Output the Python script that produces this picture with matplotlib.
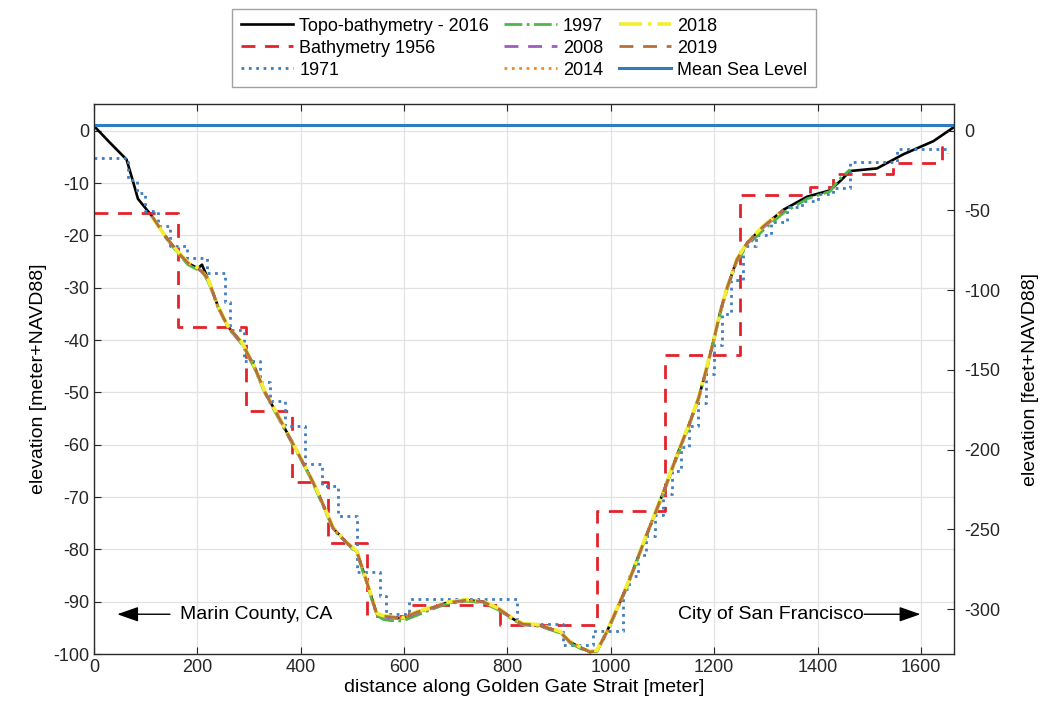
import numpy as np
import matplotlib
matplotlib.use("Agg")
import matplotlib.pyplot as plt

plt.rcParams["font.family"] = ["Liberation Sans", "DejaVu Sans"]
plt.rcParams["font.size"] = 13
plt.rcParams["axes.unicode_minus"] = False

nan = np.nan
M2FT = 3.28084

# topo-bathymetry 2016 profile
dist_2016 = [0, 30, 63, 75, 85, 112, 137, 163, 182, 201,
             209, 221, 240, 259, 286, 310, 331, 360, 386, 410,
             424, 437, 463, 489, 509, 528, 547, 560, 573, 597,
             625, 650, 683, 721, 753, 785, 811, 830, 863, 902,
             921, 940, 960, 973, 992, 1018, 1034, 1043, 1070, 1100,
             1130, 1150, 1170, 1185, 1199, 1212, 1225, 1244, 1264, 1295,
             1334, 1380, 1424, 1445, 1463, 1515, 1566, 1624, 1664]
elev_2016 = [0.9, -2.2, -5.5, -9.5, -13.0, -16.3, -20.0, -23.3, -25.3, -26.3,
             -25.6, -28.4, -33.6, -37.4, -40.5, -45.0, -50.0, -55.2, -60.0, -64.5,
             -67.2, -70.0, -76.0, -78.7, -80.5, -86.3, -92.3, -92.8, -92.9, -93.2,
             -92.0, -91.3, -90.2, -89.7, -90.0, -91.5, -93.3, -94.3, -94.5, -95.8,
             -97.7, -98.7, -99.6, -99.4, -95.8, -90.0, -86.3, -84.0, -77.0, -69.5,
             -61.5, -56.5, -51.0, -45.5, -40.0, -34.5, -30.0, -24.6, -21.4, -18.3,
             -15.1, -12.6, -11.4, -9.5, -7.7, -7.2, -4.5, -2.0, 0.7]

# 1956 bathymetry (stepped, value holds until next distance)
dist_1956 = [0, 163, 294, 383, 453, 528, 610, 786, 973, 1105, 1250, 1386, 1430, 1545, 1641, 1650]
elev_1956 = [-15.8, -37.6, -53.6, -67.1, -78.8, -92.7, -90.7, -94.4, -72.7, -42.8,
             -12.3, -10.8, -8.2, -6.1, -3.2, -3.2]

# 1971 survey (stepped)
dist_1971 = [0, 66, 83, 99, 124, 147, 180, 219, 253, 263,
             290, 321, 341, 370, 408, 441, 472, 509, 553, 565,
             610, 818, 908, 966, 1024, 1036, 1052, 1068, 1085, 1100,
             1118, 1135, 1152, 1168, 1185, 1200, 1215, 1232, 1255, 1280,
             1310, 1340, 1370, 1400, 1430, 1463, 1554, 1650]
elev_1971 = [-5.2, -9.4, -11.9, -15.4, -18.3, -22.0, -24.3, -27.1, -32.8, -38.0,
             -44.0, -48.0, -51.7, -56.5, -63.7, -67.9, -73.7, -84.4, -88.9, -92.3,
             -89.5, -94.3, -98.2, -95.6, -87.6, -85.0, -81.0, -77.5, -73.5, -69.5,
             -65.0, -60.5, -56.5, -52.0, -46.5, -41.0, -35.0, -28.5, -22.0, -20.0,
             -17.5, -14.5, -13.5, -12.0, -11.0, -5.9, -3.4, -4.2]

# later multibeam surveys on a shared distance grid
survey_dist = [112, 137, 163, 182, 201, 209, 221, 240, 259, 286,
               310, 331, 360, 386, 410, 424, 437, 463, 489, 509,
               528, 547, 560, 573, 597, 625, 650, 683, 721, 753,
               785, 811, 830, 863, 902, 921, 940, 960, 973, 992,
               1018, 1034, 1043, 1070, 1100, 1130, 1150, 1170, 1185, 1199,
               1212, 1225, 1244, 1264, 1295, 1334, 1380, 1424, 1445, 1463]
elev_1997 = [nan, -20.2, -23.5, -25.6, -26.6, -27.0, -28.8, -33.8, -37.6, -40.8,
             -45.3, -50.2, -55.5, -60.3, -64.6, -67.5, -70.3, -76.2, -78.8, -80.8,
             -86.6, -92.6, -93.4, -93.6, -93.7, -92.6, -91.6, -90.4, -89.9, -90.2,
             -91.7, -93.5, -94.4, -94.7, -96.0, -97.9, -98.9, -99.7, -99.5, -96.0,
             -90.3, -86.6, -84.2, -77.2, -69.8, -61.8, -56.8, -51.3, -45.8, -40.3,
             -34.8, -30.3, -25.0, -21.9, -19.0, -15.7, -13.0, -11.6, -9.0, -7.4]
elev_2008 = [nan, -20.1, -23.4, -25.4, -26.4, -27.0, -28.6, -33.7, -37.5, -40.6,
             -45.1, -50.1, -55.3, -60.1, -64.6, -67.3, -70.1, -76.1, -78.8, -80.6,
             -86.4, -92.4, -92.9, -93.1, -93.3, -92.2, -91.4, -90.3, -89.8, -90.1,
             -91.6, -93.4, -94.4, -94.6, -95.9, -97.8, -98.8, -99.6, -99.4, -95.9,
             -90.1, -86.4, -84.1, -77.1, -69.6, -61.6, -56.6, -51.1, -45.6, -40.1,
             -34.6, -30.1, -24.8, -21.6, -18.5, -15.3, nan, nan, nan, nan]
elev_2014 = [nan, -20.0, -23.3, -25.3, -26.3, -26.9, -28.5, -33.6, -37.4, -40.5,
             -45.0, -50.0, -55.2, -60.0, -64.5, -67.2, -70.0, -76.0, -78.7, -80.5,
             -86.3, -92.3, -92.8, -92.9, -93.2, -92.0, -91.3, -90.2, -89.7, -90.0,
             -91.5, -93.3, -94.3, -94.5, -95.8, -97.7, -98.7, -99.6, -99.4, -95.8,
             -90.0, -86.3, -84.0, -77.0, -69.5, -61.5, -56.5, -51.0, -45.5, -40.0,
             -34.5, -30.0, -24.6, -21.5, -18.4, -15.2, nan, nan, nan, nan]
elev_2018 = [-16.4, -20.0, -23.2, -25.2, -26.2, -26.8, -28.4, -33.5, -37.3, -40.4,
             -44.9, -49.9, -55.1, -59.9, -64.4, -67.1, -69.9, -75.9, -78.6, -80.4,
             -86.2, -92.2, -92.7, -92.8, -93.1, -91.9, -91.2, -90.1, -89.6, -89.9,
             -91.4, -93.2, -94.2, -94.4, -95.7, -97.6, -98.6, -99.5, -99.3, -95.7,
             -89.9, -86.2, -83.9, -76.9, -69.4, -61.4, -56.4, -50.9, -45.4, -39.9,
             -34.4, -29.9, -24.5, -21.3, -18.2, -15.0, nan, nan, nan, nan]
elev_2019 = [-16.3, -20.0, -23.3, -25.3, -26.3, -26.9, -28.4, -33.6, -37.4, -40.5,
             -45.0, -50.0, -55.2, -60.0, -64.5, -67.2, -70.0, -76.0, -78.7, -80.5,
             -86.3, -92.3, -92.8, -92.9, -93.2, -92.0, -91.3, -90.2, -89.7, -90.0,
             -91.5, -93.3, -94.3, -94.5, -95.8, -97.7, -98.7, -99.6, -99.4, -95.8,
             -90.0, -86.3, -84.0, -77.0, -69.5, -61.5, -56.5, -51.0, -45.5, -40.0,
             -34.5, -30.0, -24.6, -21.4, -18.3, -15.1, nan, nan, nan, nan]

msl = 1.1
xmax = 1664
ylim_m = (-100, 5.1)

fig = plt.figure(figsize=(10.43, 7.15), dpi=100)
ax = fig.add_axes([0.0901, 0.0853, 0.8246, 0.7692])

ax.plot(dist_2016, elev_2016, color="black", lw=1.9, label="Topo-bathymetry - 2016")
ax.plot(dist_1956, elev_1956, color="#e3222b", lw=2.0, dashes=(5, 3.5),
        drawstyle="steps-post", label="Bathymetry 1956")
ax.plot(dist_1971, elev_1971, color="#3f7fbf", lw=2.0, ls=":",
        drawstyle="steps-post", label="1971")
ax.plot(survey_dist, elev_1997, color="#4db848", lw=2.0, ls="-.", label="1997")
ax.plot(survey_dist, elev_2008, color="#a05cc0", lw=2.0, dashes=(5, 3.5), label="2008")
ax.plot(survey_dist, elev_2014, color="#f28c1c", lw=2.0, ls=":", label="2014")
ax.plot(survey_dist, elev_2018, color="#f3ee30", lw=2.6, ls="-.", label="2018")
ax.plot(survey_dist, elev_2019, color="#b5703a", lw=2.0, dashes=(5, 3.5), label="2019")
ax.axhline(msl, color="#2f7dc0", lw=2.2, label="Mean Sea Level")

ax.set_xlim(0, xmax)
ax.set_ylim(*ylim_m)
ax.set_xticks(np.arange(0, 1601, 200))
ax.set_yticks(np.arange(-100, 1, 10))
ax.grid(True, color="#e2e2e2", lw=0.9)
ax.set_axisbelow(True)
ax.tick_params(direction="in", length=5, top=True, colors="#262626", labelsize=13)
for sp in ax.spines.values():
    sp.set_color("#2a2a2a")
    sp.set_linewidth(1.0)
ax.set_xlabel("distance along Golden Gate Strait [meter]", fontsize=14, labelpad=2)
ax.set_ylabel("elevation [meter+NAVD88]", fontsize=14, labelpad=4)

# feet scale on the right
ax2 = ax.twinx()
ax2.set_ylim(ylim_m[0] * M2FT, ylim_m[1] * M2FT)
ax2.set_yticks(np.arange(-300, 1, 50))
ax2.tick_params(direction="in", length=5, colors="#262626", labelsize=13, pad=7)
for sp in ax2.spines.values():
    sp.set_visible(False)
ax2.set_ylabel("elevation [feet+NAVD88]", fontsize=14, labelpad=16)

# place names with arrows
ax.annotate("", xy=(45, -92.4), xytext=(147, -92.4),
            arrowprops=dict(arrowstyle="-|>,head_length=1.0,head_width=0.35",
                            color="black", lw=1.0, shrinkA=0, shrinkB=0))
ax.text(166, -92.4, "Marin County, CA", fontsize=14, va="center", ha="left")
ax.annotate("", xy=(1599, -92.4), xytext=(1490, -92.4),
            arrowprops=dict(arrowstyle="-|>,head_length=1.0,head_width=0.35",
                            color="black", lw=1.0, shrinkA=0, shrinkB=0))
ax.text(1490, -92.4, "City of San Francisco", fontsize=14, va="center", ha="right")

leg = ax.legend(loc="lower center", bbox_to_anchor=(0.5, 1.015), ncol=3,
                fontsize=13, frameon=True, fancybox=False, edgecolor="#8a8a8a",
                handlelength=2.9, handletextpad=0.35, columnspacing=0.85,
                labelspacing=0.28, borderpad=0.45)
leg.get_frame().set_linewidth(1.0)

fig.savefig("out.png", dpi=100)
